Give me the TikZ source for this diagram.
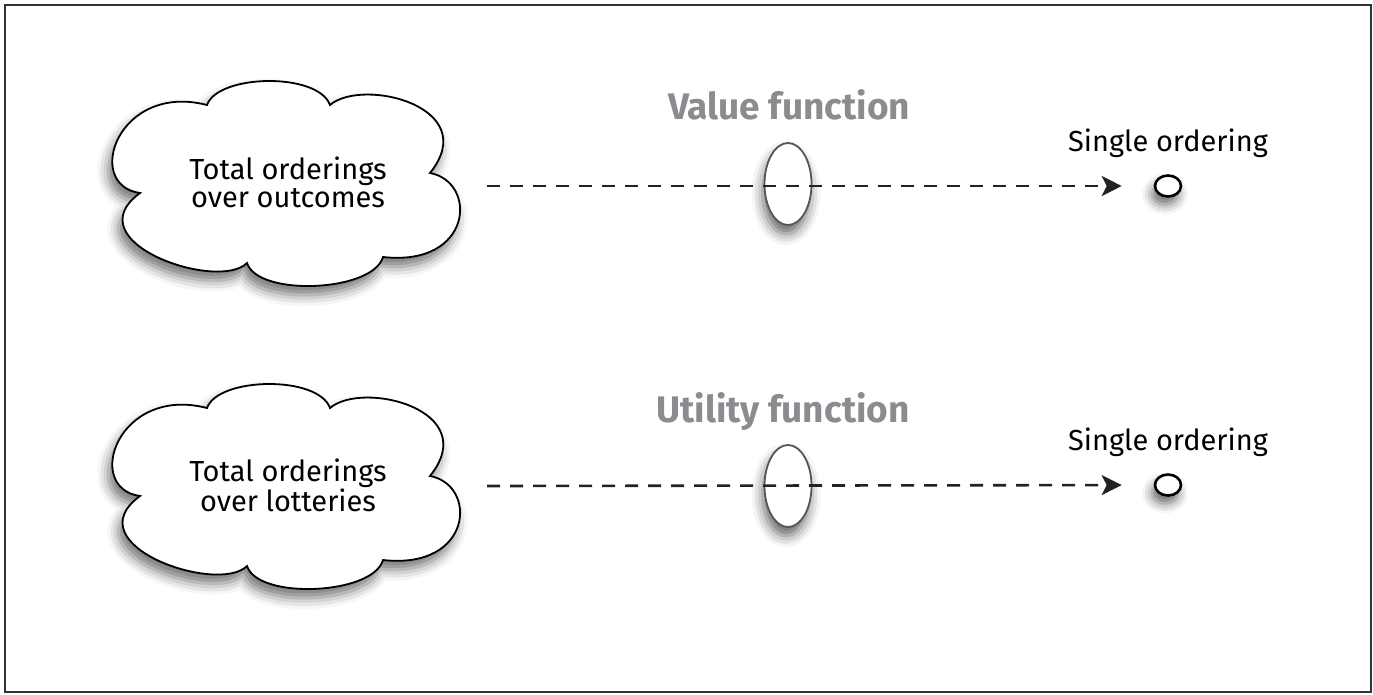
\documentclass[tikz,border=0pt]{standalone}
\usepackage{fontspec}
\setmainfont{Fira Sans}
\usetikzlibrary{shadows.blur,arrows.meta,shapes.geometric}
\definecolor{framegray}{HTML}{333333}
\definecolor{labelgray}{HTML}{8C8C90}
\definecolor{ellgray}{HTML}{555555}
\definecolor{linegray}{HTML}{222222}
\newcommand{\mycloudpath}{%
  (-148,11) .. controls (-205,3) and (-170,-100) .. (-81,-77)
  .. controls (-70,-108) and (30,-110) .. (42,-77)
  .. controls (75,-105) and (195,-75) .. (142,-9)
  .. controls (190,0) and (185,85) .. (95,75)
  .. controls (85,110) and (-30,115) .. (-41,81)
  .. controls (-70,110) and (-215,60) .. cycle}
\begin{document}
\begin{tikzpicture}[x=1pt,y=-1pt,
  cloudline/.style={draw=black, line width=1.8pt, fill=white,
    blur shadow={shadow xshift=-4pt, shadow yshift=-9pt, shadow blur radius=11pt, shadow opacity=55}},
  cloudtxt/.style={font=\fontsize{29}{28}\selectfont, align=center, inner sep=0pt},
  fnlabel/.style={font=\bfseries\fontsize{37}{38}\selectfont, text=labelgray, inner sep=0pt, anchor=base},
  ordtxt/.style={font=\fontsize{29}{30}\selectfont, inner sep=0pt, anchor=base},
  lens/.style={ellipse, draw=ellgray, line width=1.8pt, fill=white, minimum width=47pt, minimum height=82pt, inner sep=0pt,
    blur shadow={shadow xshift=-2pt, shadow yshift=-9pt, shadow blur radius=11pt, shadow opacity=60}},
  dot/.style={ellipse, draw=black, line width=2.6pt, fill=white, minimum width=26pt, minimum height=21pt, inner sep=0pt,
    blur shadow={shadow xshift=-3pt, shadow yshift=-8pt, shadow blur radius=10pt, shadow opacity=60}},
  dashline/.style={draw=linegray, line width=2.6pt, dash pattern=on 13pt off 10pt,
    -{Stealth[length=20pt,width=20pt,inset=5pt]}, shorten >=32pt}]
\useasboundingbox (0,0) rectangle (1373,694);
\draw[line width=2pt, draw=framegray] (5,5) rectangle (1370.5,692);

% row 1
\path[cloudline, shift={(288,182)}] \mycloudpath;
\node[cloudtxt] (c1) at (288,182) {Total orderings\\over outcomes};
\node[lens] (e1) at (788,184) {};
\node[fnlabel] (f1) at (789,119) {Value function};
\node[dot] (o1) at (1168,186) {};
\node[ordtxt] (t1) at (1168,151) {Single ordering};
\coordinate (s1) at (487,186);
\draw[dashline] (s1) -- (o1.west);

% row 2
\path[cloudline, shift={(288,485)}] \mycloudpath;
\node[cloudtxt] (c2) at (288,485) {Total orderings\\over lotteries};
\node[lens] (e2) at (788,486) {};
\node[fnlabel] (f2) at (783,422) {Utility function};
\node[dot] (o2) at (1168,485) {};
\node[ordtxt] (t2) at (1168,450) {Single ordering};
\coordinate (s2) at (487,486);
\draw[dashline] (s2) -- (o2.west);
\end{tikzpicture}
\end{document}
